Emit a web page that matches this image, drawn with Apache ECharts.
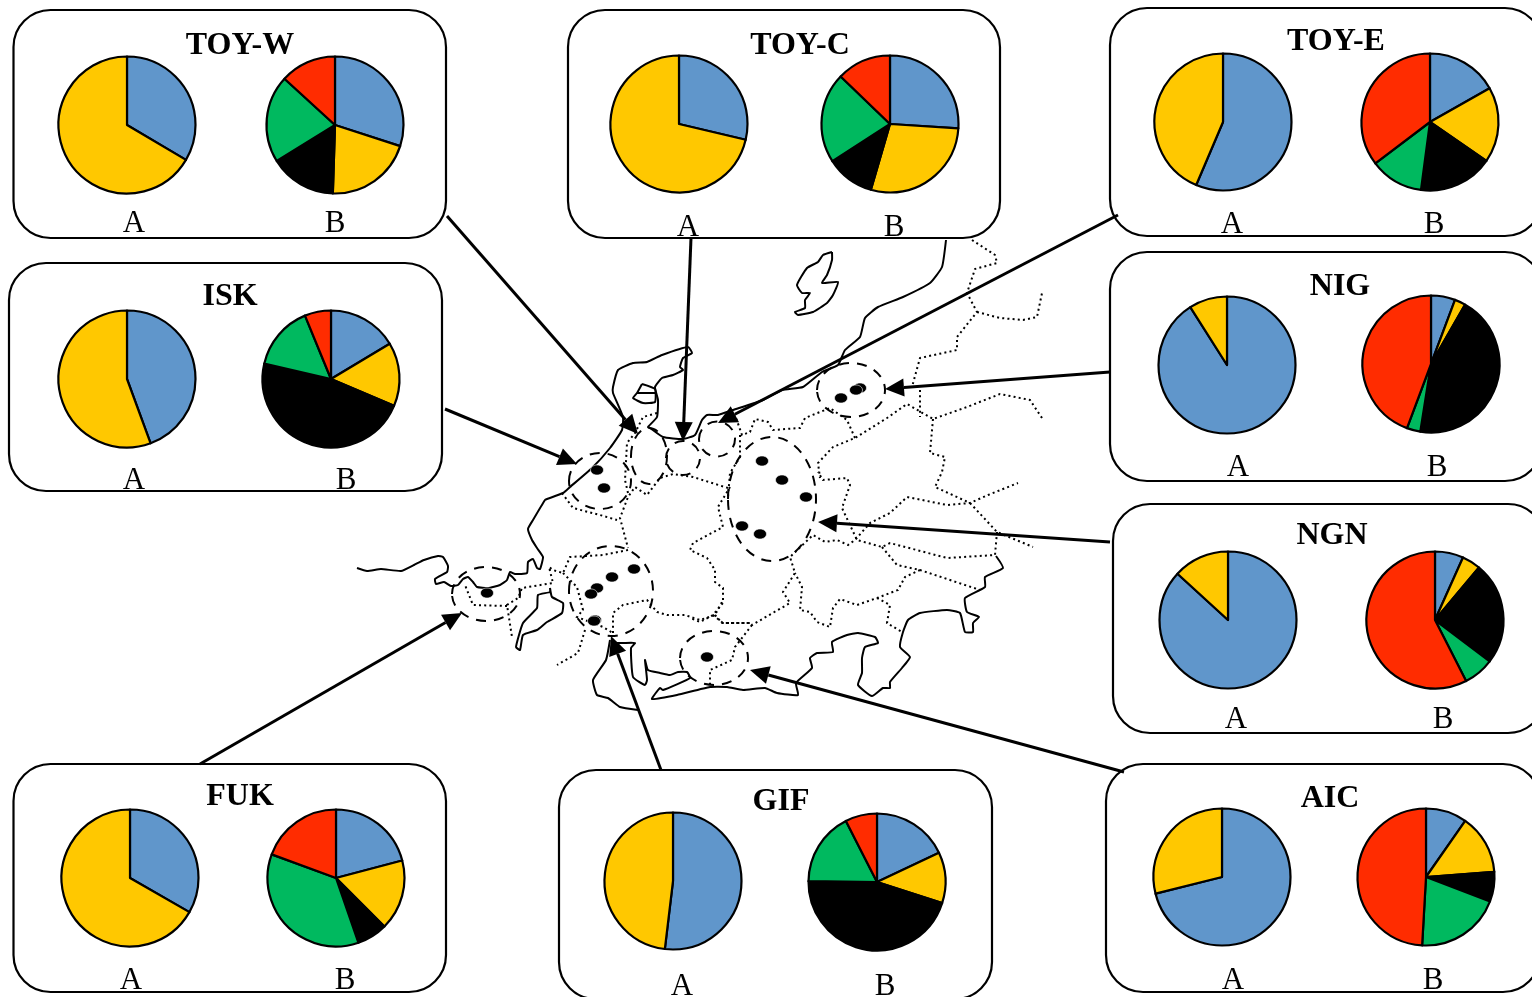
<!DOCTYPE html>
<html><head><meta charset="utf-8">
<style>html,body{margin:0;padding:0;background:#fff;overflow:hidden}#c{width:1532px;height:997px}</style>
<script src="https://cdn.jsdelivr.net/npm/echarts@6/dist/echarts.min.js"></script>
</head><body><div id="c"></div>
<script>
// ---- data ----
const regions = ['TOY-W','TOY-C','TOY-E','ISK','NIG','NGN','FUK','GIF','AIC'];
const seriesA = ['Blue','Yellow'];
const seriesB = ['Blue','Yellow','Black','Green','Red'];
const valuesA_TOYW = [33.5,66.5];
const valuesB_TOYW = [30,20.5,15.7,20.6,13.2];
const valuesA_TOYC = [28.7,71.3];
const valuesB_TOYC = [26,28.5,11.4,21.3,12.8];
const valuesA_TOYE = [56.4,43.6];
const valuesB_TOYE = [16.8,17.8,17.5,12.6,35.3];
const valuesA_ISK = [44.4,55.6];
const valuesB_ISK = [16.4,15,47.2,15.2,6.2];
const valuesA_NIG = [91,9];
const valuesB_NIG = [5.7,2.6,44.2,3.2,44.3];
const valuesA_NGN = [86.8,13.2];
const valuesB_NGN = [6.7,4.4,24.2,7.2,57.5];
const valuesA_FUK = [33.3,66.7];
const valuesB_FUK = [20.9,16.6,7.2,35.9,19.4];
const valuesA_GIF = [51.9,48.1];
const valuesB_GIF = [18,12,45.2,17.3,7.5];
const valuesA_AIC = [71.1,28.9];
const valuesB_AIC = [9.7,14.1,7,20.1,49.1];
const valuesA = [valuesA_TOYW,valuesA_TOYC,valuesA_TOYE,valuesA_ISK,valuesA_NIG,valuesA_NGN,valuesA_FUK,valuesA_GIF,valuesA_AIC];
const valuesB = [valuesB_TOYW,valuesB_TOYC,valuesB_TOYE,valuesB_ISK,valuesB_NIG,valuesB_NGN,valuesB_FUK,valuesB_GIF,valuesB_AIC];

// ---- layout ----
const colours = {Blue:'#6096CB',Yellow:'#FFC800',Black:'#000000',Green:'#00B95F',Red:'#FF2C00'};
const boxes = [[13.5,10,432.5,228],[568,10,432,228],[1110,8,432,228],[9,263,433,228],[1110,252,432,229],[1113,504,432,229],[13.5,764,432.5,228],[559,770,433,229],[1106,764,434,228]];
const centersA = [[127,125],[679,124],[1223,122],[127,379],[1227,365],[1228,620],[130,878],[673,881],[1222,877]];
const centersB = [[335,125],[890,124],[1430,122],[331,379],[1431,364],[1435,620],[336,878],[877,882],[1426,877]];
const titlePos = [[240,56],[800,56],[1336,52],[230,307],[1340,297],[1332,546],[240,807],[781,812],[1330,809]];
const labelA = [[134,234],[688,238],[1232,235],[134,491],[1238,478],[1236,730],[131,991],[682,997],[1233,991]];
const labelB = [[335,234],[894,238],[1434,235],[346,491],[1437,478],[1443,730],[345,991],[885,997],[1433,991]];
const arrows = [[447,216,638,434],[691,238,683,441],[1118,215,718,423],[1110,372,885,389],[1110,542,818,522],[445,409,577,464],[200,764,462,613],[661,770,611,636],[1124,772,750,670]];
const zones = [[600,481,31,28],[649,456,18,28],[683,458,17,17],[717,439,18,17.5],[851,390,34,27],[772,499,44,62],[611,591,42,45],[486,594,34,27],[714,658,34,27]];
const sites = [[597,470],[604,488],[841,398],[860,388],[856,390],[762,461],[782,480],[806,497],[742,526],[760,534],[634,569],[612,577],[597,588],[591,594],[595,620],[594,621],[487,593],[707,657]];
const coasts = [
 [[357,568],[367,571],[381,569],[401,571],[414,565],[424,560],[438,556],[443,557],[448,566],[447,572],[435,579],[436,584],[444,582],[451,586],[458,585],[463,579],[468,577],[473,582],[477,587],[488,588],[500,585],[507,580],[510,572],[515,574],[527,573],[528,562],[533,559],[537,568],[540,569],[543,557],[537,548],[532,540],[528,529],[533,520],[545,500],[547,499],[563,493],[570,487],[592,468],[610,448],[622,430],[623,417],[613,393],[613,387],[618,370],[633,363],[647,362],[662,355],[688,347],[692,353],[683,358],[680,367],[683,370],[673,375],[662,378],[655,387],[658,400],[657,417],[648,427],[650,428],[663,437],[683,439],[695,435],[702,420],[707,415],[718,415],[733,410],[763,400],[782,390],[803,387],[822,372],[838,365],[845,350],[860,337],[865,318],[878,307],[903,297],[930,283],[942,267],[946,240]],
 [[642,384],[655,389],[655,402],[643,403],[633,398],[637,393],[642,384]],
 [[637,393],[655,393]],
 [[832,252],[832,260],[827,275],[822,283],[838,282],[833,295],[827,303],[813,312],[798,315],[795,312],[805,308],[805,300],[810,293],[802,293],[797,285],[807,268],[818,262],[823,255],[832,252]],
 [[550,588],[552,597],[563,603],[562,613],[547,622],[537,630],[523,635],[520,650],[516,647],[523,623],[537,608],[538,595],[550,592],[550,588]],
 [[610,640],[606,660],[593,680],[597,695],[608,698],[620,707],[638,710]],
 [[612,643],[623,643],[635,643],[631,648],[633,677],[645,685],[647,680],[645,660],[648,670],[660,673],[670,675],[678,672],[687,672],[690,678],[663,690],[660,688],[652,699],[677,695],[710,687],[727,687],[743,690],[765,688],[777,693],[798,695],[796,683],[812,668],[810,658],[817,653],[833,652],[832,642],[847,635],[858,633],[875,637],[878,643],[865,647],[862,658],[862,673],[858,685],[872,696],[883,688],[890,688],[890,682],[902,668],[910,657],[900,647],[903,632],[908,620],[920,613],[947,610],[960,613],[965,632],[973,632],[973,623],[979,617],[967,612],[965,598],[985,587],[985,577],[1003,568],[996,556]]
];
const borders = [
 [[972,240],[995,255],[997,263],[975,269],[967,293],[977,312],[957,337],[957,350],[920,358],[912,387]],
 [[920,390],[920,417]],
 [[977,312],[1000,318],[1023,320],[1037,317],[1042,293]],
 [[1042,418],[1030,400],[1000,394],[967,407],[933,419],[907,404],[887,418],[855,438],[833,447],[818,463],[820,478]],
 [[855,438],[847,420],[830,408],[805,418],[800,428],[773,430],[768,422],[755,419],[750,432],[742,435],[735,415]],
 [[740,435],[740,457],[730,473],[728,497]],
 [[728,488],[693,477],[673,474],[660,478],[647,495],[635,487],[628,497],[620,518],[628,548]],
 [[562,493],[573,508],[600,515],[617,520]],
 [[657,413],[643,417],[635,433],[627,443],[625,480],[628,493]],
 [[730,487],[718,507],[723,527],[708,535],[693,543],[690,550],[707,558],[715,570],[715,582],[723,588],[723,603],[713,615],[700,622],[690,618]],
 [[713,615],[723,623],[750,623],[752,625],[790,603],[783,592],[795,573],[790,557],[813,535],[825,542],[837,540],[848,545],[855,540],[870,523],[890,513],[907,497],[947,505],[970,503],[988,495],[1018,483]],
 [[933,419],[930,453],[945,457],[942,472],[935,487],[970,503]],
 [[970,503],[997,532],[1033,547]],
 [[997,532],[995,555],[947,558],[890,543],[882,547],[857,540],[842,508],[850,485],[847,478],[823,480],[818,472]],
 [[882,547],[897,565],[920,570],[980,590]],
 [[920,570],[905,577],[898,590],[877,598],[857,605],[840,599],[833,608],[830,627],[817,622],[810,612],[800,610],[802,587],[795,573]],
 [[877,598],[890,605],[887,623],[902,632]],
 [[752,625],[735,647],[732,660],[710,670],[710,685]],
 [[628,550],[603,555],[570,557],[563,573],[553,570],[549,567],[553,583],[522,588],[518,598],[507,605],[512,637]],
 [[507,606],[473,605],[465,585]],
 [[563,573],[577,587],[583,610],[577,617],[603,627],[613,633]],
 [[585,630],[578,653],[557,665]],
 [[613,633],[613,613],[623,605],[647,600],[657,612],[667,615],[685,615],[700,620],[715,615],[723,600]],
 [[715,615],[722,623],[752,623]]
];

// ---- build ----
const serif = '"Liberation Serif","Times New Roman",serif';
const series = [];
const pie = (name, names, vals, c) => ({
  type:'pie', name, silent:true, animation:false, radius:68.5, center:c, startAngle:90, clockwise:true,
  label:{show:false}, labelLine:{show:false},
  itemStyle:{borderColor:'#000',borderWidth:2.2},
  emphasis:{disabled:true},
  data:vals.map((v,i)=>({name:names[i],value:v,itemStyle:{color:colours[names[i]]}}))
});
regions.forEach((r,i)=>{
  series.push(pie(r+' A',seriesA,valuesA[i],centersA[i]));
  series.push(pie(r+' B',seriesB,valuesB[i],centersB[i]));
});
const g = [];
const txt = (s,x,y,font)=>g.push({type:'text',silent:true,z:5,style:{text:s,x,y,font,fill:'#000',textAlign:'center',textVerticalAlign:'middle'}});
borders.forEach(p=>g.push({type:'polyline',silent:true,shape:{points:p},style:{stroke:'#000',lineWidth:2,lineDash:[2,3.2],fill:null}}));
coasts.forEach(p=>g.push({type:'polyline',silent:true,shape:{points:p,smooth:0.15},style:{stroke:'#000',lineWidth:2,fill:null}}));
zones.forEach(z=>g.push({type:'ellipse',silent:true,shape:{cx:z[0],cy:z[1],rx:z[2],ry:z[3]},style:{stroke:'#000',lineWidth:2,lineDash:[10,8],fill:null}}));
sites.forEach(s=>g.push({type:'ellipse',silent:true,shape:{cx:s[0],cy:s[1],rx:6.5,ry:5},style:{fill:'#000',stroke:'#fff',lineWidth:0.6}}));
arrows.forEach(a=>{
  const [x0,y0,x1,y1]=a, L=Math.hypot(x1-x0,y1-y0), ux=(x1-x0)/L, uy=(y1-y0)/L, hl=19, hw=9;
  const bx=x1-ux*hl, by=y1-uy*hl;
  g.push({type:'line',silent:true,z:3,shape:{x1:x0,y1:y0,x2:bx,y2:by},style:{stroke:'#000',lineWidth:3}});
  g.push({type:'polygon',silent:true,z:3,shape:{points:[[x1,y1],[bx-uy*hw,by+ux*hw],[bx+uy*hw,by-ux*hw]]},style:{fill:'#000'}});
});
boxes.forEach(b=>g.push({type:'rect',silent:true,z:4,shape:{x:b[0],y:b[1],width:b[2],height:b[3],r:37},style:{stroke:'#000',lineWidth:2.2,fill:null}}));
regions.forEach((r,i)=>{
  txt(r,titlePos[i][0],titlePos[i][1]-10,'bold 32px '+serif);
  txt('A',labelA[i][0],labelA[i][1]-10,'31px '+serif);
  txt('B',labelB[i][0],labelB[i][1]-10,'31px '+serif);
});
const chart = echarts.init(document.getElementById('c'),null,{renderer:'canvas'});
chart.setOption({animation:false,backgroundColor:'#fff',series,graphic:{elements:g}});
</script></body></html>
